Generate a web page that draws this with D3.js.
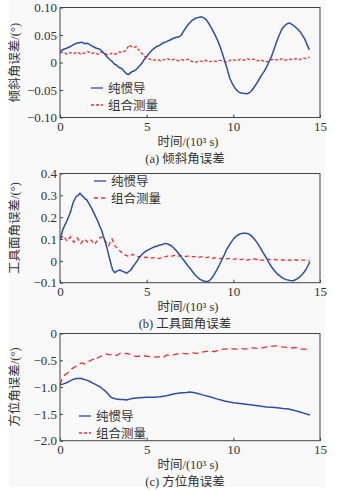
<!DOCTYPE html>
<html><head><meta charset="utf-8">
<script src="https://cdn.jsdelivr.net/npm/d3@7/dist/d3.min.js"></script>
<style>
body{margin:0;background:#fff;}
svg text{font-family:"Liberation Serif","Noto Sans CJK SC",serif;fill:#333;}
</style></head>
<body><svg id="c" width="351" height="490"></svg>
<script>
// ---- data ----
const xTicks = [0, 5, 10, 15];
const xTickLabels = ["0", "5", "10", "15"];
const xLabel = "时间/(10³ s)";
const legendNames = ["纯惯导", "组合测量"];

// panel (a) 倾斜角误差
const yTicksA = [0.10, 0.05, 0, -0.05, -0.10];
const yTickLabelsA = ["0.10", "0.05", "0", "\u22120.05", "\u22120.10"];
const blueA = [[0,0.020],[0.2,0.024],[0.38,0.026],[0.6,0.029],[0.8,0.033],[0.96,0.035],[1.1,0.036],[1.25,0.037],[1.45,0.034],[1.6,0.035],[1.73,0.032],[1.9,0.029],[2.1,0.026],[2.3,0.024],[2.5,0.018],[2.7,0.011],[2.85,0.006],[3.0,0.002],[3.15,-0.003],[3.27,-0.005],[3.4,-0.009],[3.56,-0.011],[3.7,-0.016],[3.85,-0.021],[3.95,-0.022],[4.13,-0.017],[4.3,-0.015],[4.42,-0.012],[4.6,-0.006],[4.71,-0.002],[4.85,0.005],[5.0,0.011],[5.15,0.017],[5.29,0.022],[5.45,0.026],[5.58,0.029],[5.8,0.032],[5.96,0.036],[6.15,0.038],[6.35,0.041],[6.55,0.044],[6.73,0.046],[6.88,0.047],[7.0,0.050],[7.15,0.058],[7.3,0.065],[7.45,0.071],[7.6,0.076],[7.8,0.080],[7.98,0.082],[8.17,0.083],[8.3,0.081],[8.46,0.077],[8.6,0.070],[8.75,0.062],[8.9,0.053],[9.04,0.044],[9.2,0.032],[9.33,0.020],[9.45,0.008],[9.58,-0.005],[9.7,-0.018],[9.8,-0.029],[9.95,-0.039],[10.1,-0.047],[10.25,-0.052],[10.38,-0.055],[10.55,-0.056],[10.77,-0.057],[10.92,-0.055],[11.06,-0.051],[11.2,-0.045],[11.35,-0.038],[11.5,-0.030],[11.63,-0.023],[11.78,-0.016],[11.92,-0.008],[12.05,0.001],[12.2,0.011],[12.35,0.024],[12.5,0.038],[12.65,0.050],[12.79,0.060],[12.93,0.066],[13.08,0.070],[13.23,0.072],[13.4,0.069],[13.56,0.065],[13.7,0.061],[13.85,0.056],[14.0,0.049],[14.13,0.042],[14.25,0.033],[14.38,0.023]];
const tRedA = [0,0.2,0.4,0.6,0.8,1.0,1.2,1.4,1.6,1.8,2.0,2.2,2.4,2.6,2.8,3.0,3.2,3.4,3.6,3.8,4.0,4.2,4.4,4.6,4.8,5.0,5.2,5.4,5.6,5.8,6.0,6.2,6.4,6.6,6.8,7.0,7.2,7.4,7.6,7.8,8.0,8.2,8.4,8.6,8.8,9.0,9.2,9.4,9.6,9.8,10.0,10.2,10.4,10.6,10.8,11.0,11.2,11.4,11.6,11.8,12.0,12.2,12.4,12.6,12.8,13.0,13.2,13.4,13.6,13.8,14.0,14.2,14.4];
const redA = [0.017,0.019,0.015,0.018,0.016,0.019,0.015,0.017,0.020,0.016,0.018,0.015,0.019,0.016,0.014,0.017,0.015,0.019,0.018,0.022,0.032,0.027,0.029,0.020,0.014,0.008,0.006,0.004,0.006,0.003,0.005,0.007,0.004,0.006,0.003,0.005,0.004,0.006,0.002,0.000,0.003,0.002,0.004,0.001,0.003,0.002,0.004,0.003,0.001,0.004,0.005,0.003,0.006,0.004,0.007,0.005,0.006,0.003,0.005,0.001,0.002,0.005,0.006,0.004,0.007,0.004,0.006,0.005,0.007,0.005,0.008,0.007,0.010];

// panel (b) 工具面角误差
const yTicksB = [0.4, 0.3, 0.2, 0.1, 0, -0.1];
const yTickLabelsB = ["0.4", "0.3", "0.2", "0.1", "0", "\u22120.1"];
const blueB = [[0,0.096],[0.1,0.125],[0.19,0.149],[0.38,0.180],[0.58,0.218],[0.77,0.270],[0.96,0.297],[1.05,0.300],[1.15,0.310],[1.25,0.300],[1.35,0.294],[1.45,0.283],[1.54,0.280],[1.7,0.258],[1.83,0.240],[1.95,0.220],[2.1,0.195],[2.2,0.178],[2.3,0.157],[2.4,0.140],[2.5,0.114],[2.6,0.090],[2.7,0.062],[2.8,0.030],[2.88,0.004],[2.96,-0.020],[3.04,-0.042],[3.17,-0.054],[3.3,-0.046],[3.46,-0.042],[3.6,-0.048],[3.75,-0.052],[3.85,-0.057],[3.95,-0.050],[4.08,-0.042],[4.2,-0.028],[4.33,-0.014],[4.45,0.000],[4.6,0.019],[4.8,0.035],[5.0,0.047],[5.2,0.055],[5.38,0.062],[5.6,0.068],[5.77,0.073],[5.9,0.075],[6.06,0.080],[6.25,0.076],[6.44,0.068],[6.65,0.052],[6.83,0.035],[7.0,0.017],[7.21,-0.004],[7.35,-0.020],[7.5,-0.034],[7.65,-0.050],[7.8,-0.065],[7.95,-0.076],[8.08,-0.085],[8.25,-0.091],[8.45,-0.095],[8.6,-0.092],[8.75,-0.080],[8.9,-0.062],[9.04,-0.042],[9.2,-0.018],[9.33,0.004],[9.48,0.028],[9.6,0.050],[9.75,0.070],[9.9,0.088],[10.05,0.104],[10.2,0.115],[10.35,0.122],[10.5,0.126],[10.67,0.127],[10.8,0.125],[10.96,0.120],[11.1,0.110],[11.25,0.096],[11.4,0.080],[11.54,0.062],[11.7,0.040],[11.92,0.012],[12.05,-0.008],[12.2,-0.027],[12.35,-0.043],[12.5,-0.057],[12.7,-0.070],[12.88,-0.080],[13.05,-0.086],[13.27,-0.090],[13.45,-0.091],[13.65,-0.084],[13.8,-0.076],[13.94,-0.065],[14.1,-0.050],[14.23,-0.034],[14.33,-0.018],[14.42,-0.004]];
const tRedB = tRedA;
const redB = [0.100,0.115,0.090,0.110,0.085,0.105,0.080,0.100,0.085,0.095,0.075,0.100,0.110,0.090,0.070,0.100,0.065,0.050,0.035,0.025,0.020,0.030,0.022,0.018,0.015,0.017,0.012,0.015,0.010,0.013,0.018,0.022,0.020,0.025,0.022,0.024,0.020,0.022,0.018,0.020,0.016,0.019,0.015,0.017,0.012,0.014,0.010,0.013,0.009,0.011,0.007,0.010,0.006,0.008,0.004,0.007,0.009,0.006,0.002,0.005,0.008,0.004,0.007,0.003,0.005,0.001,0.004,0.002,0.005,0.001,0.003,0.004,0.000];

// panel (c) 方位角误差
const yTicksC = [0, -0.5, -1.0, -1.5, -2.0];
const yTickLabelsC = ["0", "\u22120.5", "\u22121.0", "\u22121.5", "\u22122.0"];
const blueC = [[0,-0.96],[0.2,-0.94],[0.38,-0.92],[0.55,-0.89],[0.67,-0.87],[0.8,-0.85],[0.96,-0.84],[1.1,-0.84],[1.25,-0.84],[1.4,-0.86],[1.54,-0.87],[1.75,-0.90],[1.92,-0.93],[2.1,-0.96],[2.3,-0.99],[2.45,-1.03],[2.6,-1.07],[2.75,-1.12],[2.88,-1.17],[3.0,-1.20],[3.08,-1.21],[3.25,-1.22],[3.46,-1.23],[3.65,-1.23],[3.85,-1.24],[4.05,-1.22],[4.23,-1.21],[4.6,-1.20],[5.0,-1.19],[5.4,-1.19],[5.77,-1.18],[6.15,-1.16],[6.54,-1.13],[6.9,-1.11],[7.3,-1.10],[7.5,-1.09],[7.69,-1.10],[7.95,-1.12],[8.27,-1.15],[8.65,-1.18],[9.04,-1.22],[9.5,-1.26],[10.0,-1.29],[10.5,-1.31],[10.96,-1.33],[11.4,-1.35],[11.92,-1.37],[12.4,-1.38],[12.88,-1.40],[13.2,-1.41],[13.46,-1.43],[13.8,-1.46],[14.1,-1.49],[14.42,-1.52]];
const redC = [[0,-0.96],[0.12,-0.85],[0.22,-0.80],[0.29,-0.77],[0.42,-0.74],[0.58,-0.69],[0.72,-0.65],[0.87,-0.62],[1.0,-0.60],[1.15,-0.56],[1.3,-0.55],[1.42,-0.57],[1.54,-0.53],[1.72,-0.51],[1.92,-0.48],[2.05,-0.50],[2.15,-0.46],[2.3,-0.43],[2.5,-0.41],[2.7,-0.38],[2.85,-0.40],[3.08,-0.39],[3.25,-0.41],[3.46,-0.37],[3.65,-0.38],[3.85,-0.37],[4.05,-0.39],[4.23,-0.41],[4.4,-0.43],[4.6,-0.42],[4.9,-0.42],[5.19,-0.43],[5.5,-0.44],[5.77,-0.43],[5.95,-0.45],[6.15,-0.40],[6.35,-0.41],[6.54,-0.40],[6.8,-0.38],[7.1,-0.37],[7.4,-0.38],[7.69,-0.36],[7.9,-0.37],[8.08,-0.35],[8.35,-0.34],[8.65,-0.32],[8.9,-0.34],[9.23,-0.30],[9.5,-0.29],[9.8,-0.28],[10.1,-0.29],[10.38,-0.28],[10.7,-0.29],[11.0,-0.27],[11.15,-0.27],[11.5,-0.28],[11.92,-0.25],[12.2,-0.24],[12.5,-0.23],[12.8,-0.25],[13.08,-0.26],[13.4,-0.27],[13.6,-0.26],[13.85,-0.29],[14.1,-0.29],[14.42,-0.32]];

const captions = ["(a) 倾斜角误差", "(b) 工具面角误差", "(c) 方位角误差"];
const yLabels = ["倾斜角误差/(°)", "工具面角误差/(°)", "方位角误差/(°)"];

// ---- drawing ----
const BLUE = "#2b4ea6", RED = "#ee2c2c", AX = "#444";
const svg = d3.select("#c");
svg.append("rect").attr("x", 9).attr("y", 0).attr("width", 316).attr("height", 487).attr("fill", "#f8f8f8");

const panels = [
  {top: 7.5, bottom: 117.5, dom: [-0.10, 0.10], ticks: yTicksA, tl: yTickLabelsA,
   blue: blueA, red: tRedA.map((t, i) => [t, redA[i]]), dash: "3,2",
   legX: 91, legY: 88, legDash: "3,2"},
  {top: 173.5, bottom: 282.7, dom: [-0.1, 0.4], ticks: yTicksB, tl: yTickLabelsB,
   blue: blueB, red: tRedB.map((t, i) => [t, redB[i]]), dash: "4,3",
   legX: 94, legY: 181, legDash: "4,3"},
  {top: 333.5, bottom: 440.7, dom: [-2.0, 0], ticks: yTicksC, tl: yTickLabelsC,
   blue: blueC, red: redC, dash: "6,4",
   legX: 79, legY: 416, legDash: "3,2"}
];

const x = d3.scaleLinear().domain([0, 15]).range([60, 320]);

panels.forEach((p, k) => {
  const y = d3.scaleLinear().domain(p.dom).range([p.bottom, p.top]);
  const g = svg.append("g");
  const clipId = "clip" + k;
  svg.append("clipPath").attr("id", clipId).append("rect")
    .attr("x", 60).attr("y", p.top).attr("width", 260).attr("height", p.bottom - p.top);

  const line = d3.line().x(d => x(d[0])).y(d => y(d[1]));
  g.append("path").datum(p.red).attr("d", line).attr("fill", "none")
    .attr("stroke", RED).attr("stroke-width", 1.3).attr("stroke-dasharray", p.dash)
    .attr("clip-path", `url(#${clipId})`);
  g.append("path").datum(p.blue).attr("d", line).attr("fill", "none")
    .attr("stroke", BLUE).attr("stroke-width", 1.5).attr("stroke-linejoin", "round")
    .attr("clip-path", `url(#${clipId})`);

  // frame
  g.append("rect").attr("x", 60).attr("y", p.top).attr("width", 260).attr("height", p.bottom - p.top)
    .attr("fill", "none").attr("stroke", AX).attr("stroke-width", 1);

  // y axis
  const ya = d3.axisLeft(y).tickValues(p.ticks).tickSizeInner(-3).tickSizeOuter(0)
    .tickFormat((d, i) => p.tl[i]);
  const yg = g.append("g").attr("transform", "translate(60,0)").call(ya);
  yg.select(".domain").remove();
  yg.selectAll(".tick line").attr("stroke", AX);
  yg.selectAll(".tick text").attr("x", -3).attr("font-size", 13).attr("fill", "#333")
    .style("font-family", "Liberation Serif");

  // x axis
  const xa = d3.axisBottom(x).tickValues(xTicks).tickSizeInner(-3).tickSizeOuter(0)
    .tickFormat((d, i) => xTickLabels[i]);
  const xg = g.append("g").attr("transform", `translate(0,${p.bottom})`).call(xa);
  xg.select(".domain").remove();
  xg.selectAll(".tick line").attr("stroke", AX);
  xg.selectAll(".tick text").attr("y", 4).attr("font-size", 13).attr("fill", "#333")
    .style("font-family", "Liberation Serif");

  // x label & caption
  g.append("text").attr("x", 188).attr("y", p.bottom + 28).attr("text-anchor", "middle")
    .attr("font-size", 12.5).text(xLabel);
  g.append("text").attr("x", 185).attr("y", p.bottom + 45).attr("text-anchor", "middle")
    .attr("font-size", 12.5).text(captions[k]);

  // y label
  const cy = (p.top + p.bottom) / 2;
  g.append("text").attr("transform", `translate(19,${cy}) rotate(-90)`)
    .attr("text-anchor", "middle").attr("font-size", 12.5).text(yLabels[k]);

  // legend
  const lg = g.append("g");
  [[BLUE, null], [RED, p.legDash]].forEach((s, j) => {
    const ly = p.legY + j * 17;
    lg.append("line").attr("x1", p.legX).attr("x2", p.legX + 12).attr("y1", ly).attr("y2", ly)
      .attr("stroke", s[0]).attr("stroke-width", 1.3).attr("stroke-dasharray", s[1]);
    lg.append("text").attr("x", p.legX + 17).attr("y", ly + 4.5).attr("font-size", 12.5)
      .text(legendNames[j]);
  });
});
</script></body></html>
